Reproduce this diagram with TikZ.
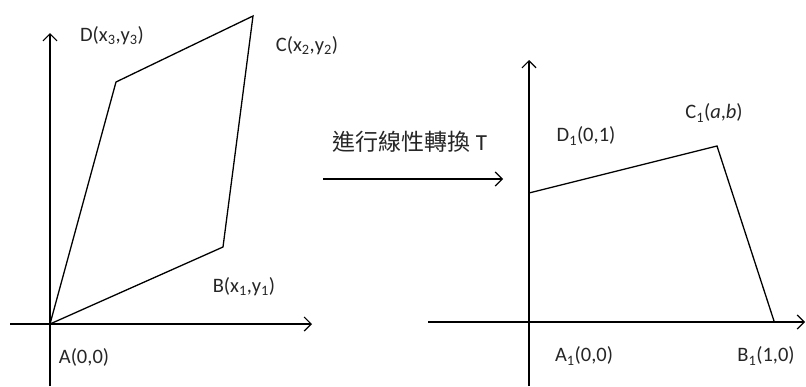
\documentclass[tikz,border=0pt]{standalone}
\usepackage{fontspec}
\setmainfont{Carlito}
\newfontfamily\cjk{Noto Sans CJK TC}
\usetikzlibrary{arrows.meta}
\tikzset{
  ln/.style={line width=1.3pt, black},
  ax/.style={ln, -{Straight Barb[length=7pt,width=14pt,line width=1.2pt]}},
  lbl/.style={inner sep=0pt, font=\fontsize{20.5}{22}\selectfont, text=black!85},
}
\newcommand{\mysub}[1]{\textsubscript{#1}}
\begin{document}
\begin{tikzpicture}[x=1pt,y=-1pt]
\useasboundingbox (0,0) rectangle (806,386);
% left figure
\coordinate (lyb) at (50,386);
\coordinate (lyt) at (50,33);
\coordinate (lxl) at (10,324);
\coordinate (lxr) at (312,324);
\coordinate (A) at (50,324);
\coordinate (B) at (223,247);
\coordinate (C) at (253,16);
\coordinate (D) at (116,82);
\draw[ax] (lyb) -- (lyt);
\draw[ax] (lxl) -- (lxr);
\draw[ln, line join=miter] (A) -- (B) -- (C) -- (D) -- cycle;
\node[lbl] (Dl) at (112,36) {D(x\mysub{3},y\mysub{3})};
\node[lbl] (Cl) at (307,46) {C(x\mysub{2},y\mysub{2})};
\node[lbl] (Bl) at (244,287) {B(x\mysub{1},y\mysub{1})};
\node[lbl] (Al) at (84,357) {A(0,0)};
% transform arrow
\coordinate (ts) at (323,179);
\coordinate (te) at (503,179);
\draw[ax] (ts) -- (te);
\node[lbl, font=\fontsize{23}{25}\selectfont] (tl) at (410,142) {{\cjk 進行線性轉換} T};
% right figure
\coordinate (ryb) at (529,386);
\coordinate (ryt) at (529,60);
\coordinate (rxl) at (428,322);
\coordinate (rxr) at (805,322);
\coordinate (D1) at (529,193);
\coordinate (C1) at (717,146);
\coordinate (B1) at (774,321);
\draw[ax] (ryb) -- (ryt);
\draw[ax] (rxl) -- (rxr);
\draw[ln, line join=miter] (D1) -- (C1) -- (B1);
\node[lbl] (D1l) at (586,136) {D\mysub{1}(0,1)};
\node[lbl] (C1l) at (714,113) {C\mysub{1}(\textit{a},\textit{b})};
\node[lbl] (A1l) at (584,356) {A\mysub{1}(0,0)};
\node[lbl] (B1l) at (766,356) {B\mysub{1}(1,0)};
\end{tikzpicture}
\end{document}
